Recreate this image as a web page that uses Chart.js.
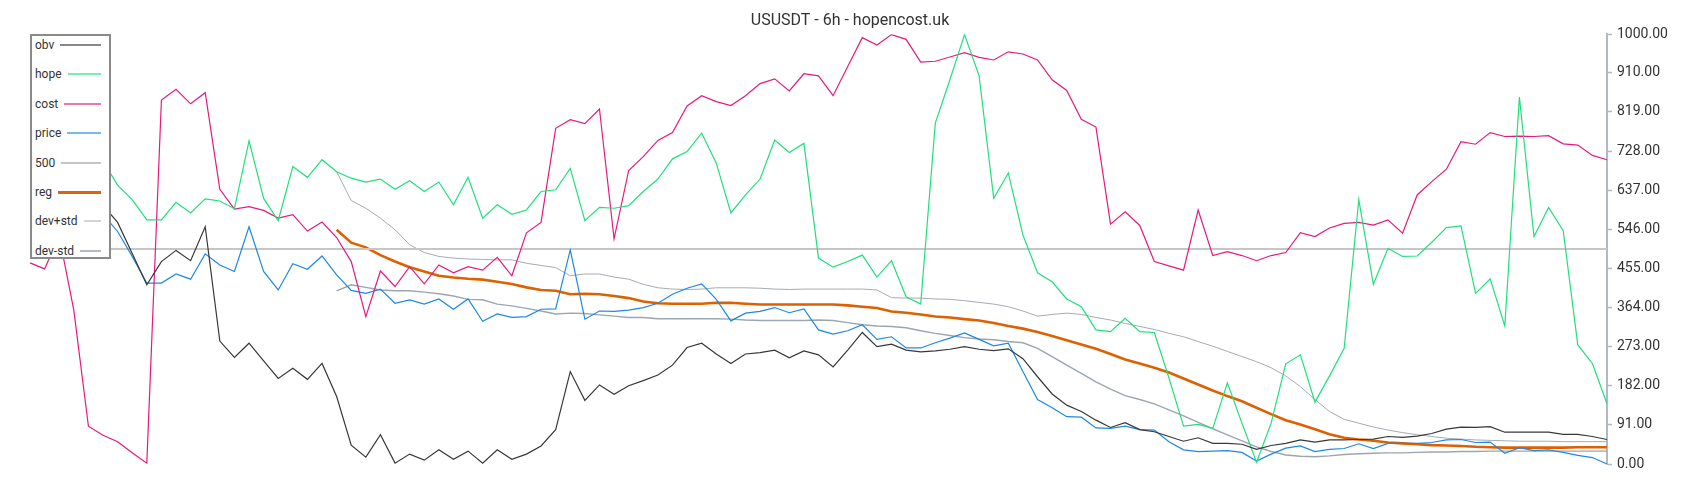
<!DOCTYPE html>
<html>
<head>
<meta charset="utf-8">
<title>USUSDT - 6h - hopencost.uk</title>
<script src="https://cdn.jsdelivr.net/npm/chart.js"></script>
<style>
    html, body { margin: 0; padding: 0; background: #fff; }
    #wrap { position: relative; width: 1700px; height: 500px; }
    #legenda {
        position: absolute; left: 30px; top: 34px;
        width: 77px; height: 221px;
        border: 2px solid #8a8a8a; background: #fff;
        font-family: Roboto, sans-serif; font-size: 12px; color: #333;
    }
    .item {
        position: absolute; left: 3px; right: 8px; height: 16px;
        display: flex; align-items: center; line-height: 16px;
    }
    .item .linha { flex: 1; margin-left: 6px; }
</style>
</head>
<body>
<div id="wrap">
    <canvas id="grafico" width="1700" height="500"></canvas>
    <div id="legenda"></div>
</div>
<script>
// valores (6h), 109 candles
const obv = [590,600,610,600,605,602,562,490,417,471,
    497,473,552,286,248,281,240,199,223,197,
    234,157,44,16,68,2,23,9,33,11,
    30,2,33,11,23,42,80,215,148,184,
    162,182,194,207,230,271,281,256,234,256,
    259,265,247,263,254,226,265,306,273,279,
    265,261,263,267,273,267,264,268,245,203,
    163,137,122,102,85,96,80,75,64,53,
    61,48,48,46,34,43,48,56,51,56,
    56,57,58,64,62,65,71,81,86,85,
    87,74,74,74,74,69,69,64,57];

const hope = [680,690,700,690,705,705,649,615,568,568,
    609,584,617,612,594,752,618,566,692,667,
    708,680,665,656,663,639,659,634,656,603,
    667,572,603,581,591,634,638,688,566,597,
    595,601,634,663,710,727,770,700,584,626,
    663,754,725,746,479,458,471,486,435,473,
    389,372,793,894,999,903,618,677,533,445,
    424,384,366,312,308,339,308,306,200,88,
    92,83,189,95,4,95,233,254,144,205,
    269,615,418,502,483,484,516,550,554,397,
    431,321,854,529,597,543,277,234,140];

const cost = [468,454,530,358,88,67,52,26,2,847,
    872,838,864,639,593,599,590,572,580,542,
    563,527,471,343,449,413,459,419,463,445,
    459,451,481,438,538,562,781,801,792,826,
    524,683,715,753,771,833,857,843,834,857,
    885,896,868,908,903,857,925,992,975,999,
    988,935,937,947,957,946,940,959,954,940,
    894,869,802,784,558,587,555,471,461,451,
    591,485,494,485,473,485,492,538,529,549,
    560,562,556,568,537,626,657,686,750,744,
    771,762,763,762,764,745,742,718,708];

const price = [560,575,590,580,585,581,541,483,421,421,
    442,430,489,463,448,552,448,405,466,453,
    484,440,404,397,407,374,382,372,384,360,
    384,332,349,341,343,360,361,498,337,356,
    355,358,364,374,395,409,419,383,333,351,
    355,364,352,361,312,302,310,324,290,296,
    270,270,282,293,305,290,275,281,215,150,
    131,110,109,84,83,88,80,79,52,33,
    29,30,31,27,7,23,37,42,29,34,
    36,47,36,48,48,48,50,56,57,50,
    51,25,38,31,33,27,20,15,0];

// reg e bandas so comecam no candle 21
const inicioReg = 21;
const reg = [545,515,504,486,471,458,448,438,434,
    431,429,424,419,411,405,403,395,396,395,
    391,386,378,374,373,373,373,375,375,373,
    371,371,371,371,371,371,369,366,363,355,
    352,348,343,341,337,334,328,321,315,307,
    298,288,278,268,256,243,234,224,213,199,
    185,171,158,146,131,116,102,92,81,69,
    61,57,54,50,48,46,44,43,42,40,
    39,38,38,38,38,38,39,39,39];

const devMais = [680,613,595,572,545,510,492,483,479,
    477,476,475,475,467,462,457,438,442,442,
    435,430,418,410,407,406,407,410,410,410,
    409,407,406,407,407,407,407,407,405,387,
    386,386,384,383,380,376,372,366,356,344,
    348,351,348,341,335,327,320,313,304,296,
    285,274,262,250,238,224,205,180,150,122,
    104,95,86,79,73,68,64,60,58,56,
    55,54,53,53,53,52,52,52,52];

const devMenos = [403,417,411,405,403,403,400,396,391,
    383,382,372,368,362,356,349,351,350,347,
    344,341,341,338,338,338,338,338,337,335,
    334,334,334,334,335,334,329,324,321,320,
    317,310,304,299,294,291,289,285,282,269,
    250,230,211,191,174,159,150,140,126,112,
    97,82,68,54,40,29,21,18,17,19,
    22,24,25,26,26,27,28,28,29,29,
    30,30,30,30,30,30,30,30,30];

const linha500 = 500;
const ticksY = [0, 91, 182, 273, 364, 455, 546, 637, 728, 819, 910, 1000];

const labels = obv.map((v, i) => String(i));
const comecaEm = (inicio, valores) => labels.map((l, i) => i < inicio ? null : valores[i - inicio]);

const serie = (label, data, cor, largura, corLegenda) => ({
    label: label,
    data: data,
    borderColor: cor,
    borderWidth: largura,
    corLegenda: corLegenda,
    pointRadius: 0,
    tension: 0,
    fill: false,
    spanGaps: false
});

const datasets = [
    serie('obv', obv, '#383838', 1.2, 'rgba(56,56,56,0.6)'),
    serie('hope', hope, '#1fe07a', 1.2, 'rgba(31,224,122,0.6)'),
    serie('cost', cost, '#e61a7e', 1.2, 'rgba(230,26,126,0.6)'),
    serie('price', price, '#1e88e5', 1.2, 'rgba(30,136,229,0.6)'),
    serie('500', labels.map(() => linha500), '#c6c6c6', 2, '#c6c6c6'),
    serie('reg', comecaEm(inicioReg, reg), '#dd6100', 2.6, '#d9660c'),
    serie('dev+std', comecaEm(inicioReg, devMais), '#a4acb4', 1, '#d0d5da'),
    serie('dev-std', comecaEm(inicioReg, devMenos), '#9aa6b0', 1.4, '#b2bbc3')
];

const grafico = new Chart(document.getElementById('grafico'), {
    type: 'line',
    data: {
        labels: labels,
        datasets: datasets
    },
    options: {
        responsive: false,
        animation: false,
        layout: {
            padding: { left: 30, right: 30, top: 0, bottom: 36 }
        },
        plugins: {
            legend: { display: false },
            tooltip: { enabled: false },
            title: {
                display: true,
                text: 'USUSDT - 6h - hopencost.uk',
                color: '#333',
                font: { family: 'Roboto', size: 16, weight: 'normal' },
                padding: { top: 11, bottom: 4 }
            }
        },
        scales: {
            x: { display: false },
            y: {
                position: 'right',
                min: 0,
                max: 1000,
                afterBuildTicks: (scale) => {
                    scale.ticks = ticksY.map(v => ({ value: v }));
                },
                afterFit: (scale) => {
                    scale.width = 63;
                },
                grid: {
                    drawOnChartArea: false,
                    tickLength: 5,
                    tickColor: '#b0bac2',
                    tickWidth: 1.5
                },
                border: { color: '#b0bac2', width: 2 },
                ticks: {
                    padding: 5,
                    color: '#333',
                    font: { family: 'Roboto', size: 14 },
                    callback: (v) => Number(v).toFixed(2)
                }
            }
        }
    }
});

// legenda em caixa, texto antes da linha
const legenda = document.getElementById('legenda');
grafico.data.datasets.forEach((ds, i) => {
    const item = document.createElement('div');
    item.className = 'item';
    item.style.top = (1 + i * 29.4) + 'px';

    const texto = document.createElement('span');
    texto.textContent = ds.label;

    const linha = document.createElement('span');
    linha.className = 'linha';
    linha.style.height = (ds.label == 'reg' ? 3 : 2) + 'px';
    linha.style.background = ds.corLegenda;

    item.appendChild(texto);
    item.appendChild(linha);
    legenda.appendChild(item);
});
</script>
</body>
</html>
